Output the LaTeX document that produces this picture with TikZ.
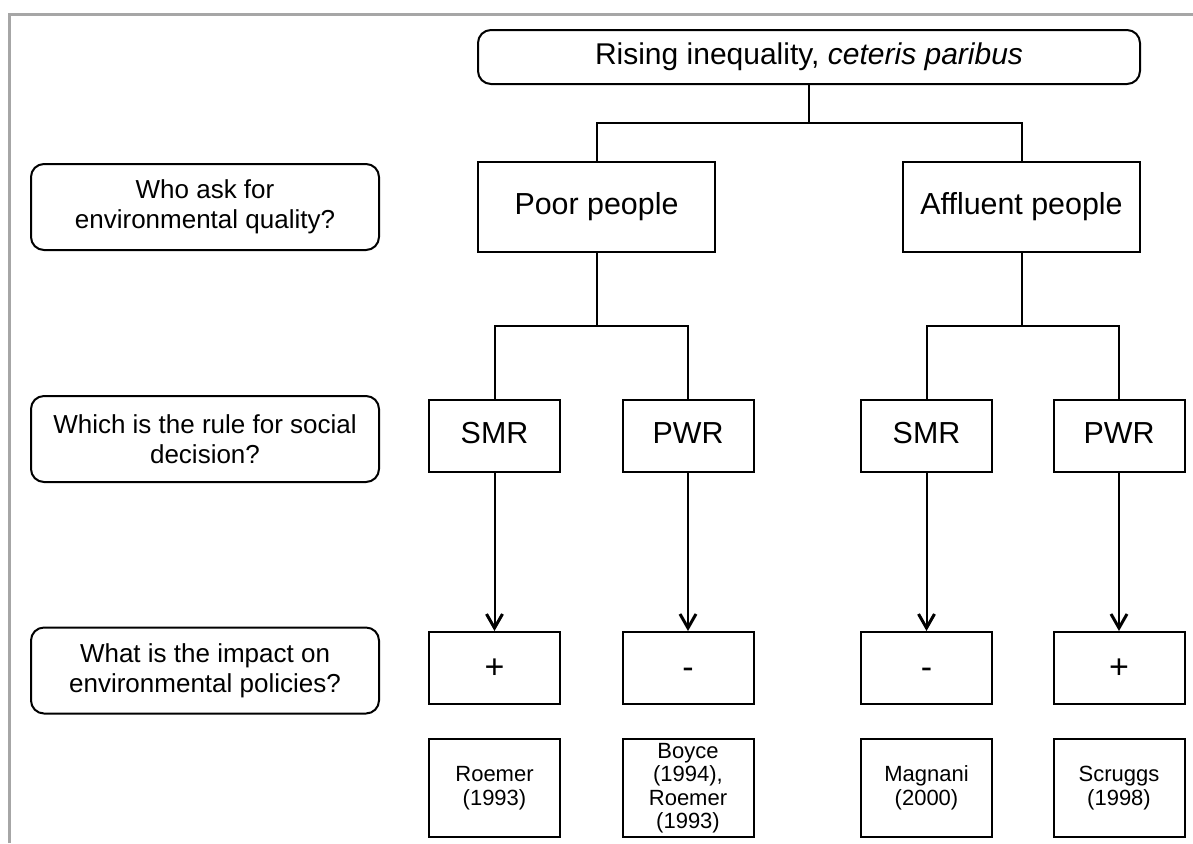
\documentclass[tikz,border=0pt]{standalone}
\usepackage{fontspec}
\setmainfont{Liberation Sans}
\usepackage{tikz}
\usetikzlibrary{arrows.meta}
\definecolor{cFrame}{HTML}{A6A6A6}
\definecolor{cLine}{HTML}{000000}

\begin{document}
\begin{tikzpicture}[
  x=0.5pt, y=-0.5pt,
  every node/.style={align=center, draw=cLine, line width=1pt, inner sep=1pt},
  question/.style={
    rounded corners=6.5pt,
    minimum width=174pt, minimum height=43pt,
    font=\fontsize{13}{15}\selectfont,
  },
  headbox/.style={
    rounded corners=6.5pt,
    minimum width=331pt, minimum height=27pt,
    font=\fontsize{15}{17}\selectfont,
  },
  groupbox/.style={
    minimum width=118.5pt, minimum height=45pt,
    font=\fontsize{15.2}{17}\selectfont,
  },
  rulebox/.style={
    minimum width=65.5pt, minimum height=36pt,
    text height=0.72em, text depth=0pt,
    font=\fontsize{15.2}{17}\selectfont,
  },
  signbox/.style={rulebox, text height=1em, font=\fontsize{17}{19}\selectfont},
  refbox/.style={
    minimum width=65.5pt, minimum height=49pt, inner sep=0pt,
    font=\fontsize{11}{11.75}\selectfont,
  },
  link/.style={draw=cLine, line width=1pt},
  arr/.style={link, -{Straight Barb[length=7pt, width=8pt, line width=1.5pt]}},
]

\useasboundingbox (0,0) rectangle (1193,843);
\draw[cFrame, line width=1.5pt] (9,843) -- (9,14) -- (1193,14);

% ─── QUESTIONS ───
\node[question] (qWho)    at (205,207)   {Who ask for\\environmental quality?};
\node[question] (qRule)   at (205,439)   {Which is the rule for social\\decision?};
\node[question] (qImpact) at (205,670.5) {What is the impact on\\environmental policies?};

% ─── TREE ───
\node[headbox] (top) at (809,57) {Rising inequality, \textit{ceteris paribus}};
\node[groupbox] (poor) at (596.5,207)  {Poor people};
\node[groupbox] (rich) at (1021.5,207) {Affluent people};

\node[rulebox] (poorSMR) at (494.5,436) {SMR};
\node[rulebox] (poorPWR) at (688,436)   {PWR};
\node[rulebox] (richSMR) at (926.5,436) {SMR};
\node[rulebox] (richPWR) at (1119,436)  {PWR};

\node[signbox] (poorSMRimp) at (494.5,668) {+};
\node[signbox] (poorPWRimp) at (688,668)   {-};
\node[signbox] (richSMRimp) at (926.5,668) {-};
\node[signbox] (richPWRimp) at (1119,668)  {+};

% ─── REFERENCES ───
\node[refbox] (poorSMRref) at (494.5,788) {Roemer\\(1993)};
\node[refbox] (poorPWRref) at (688,788)   {Boyce\\(1994),\\Roemer\\(1993)};
\node[refbox] (richSMRref) at (926.5,788) {Magnani\\(2000)};
\node[refbox] (richPWRref) at (1119,788)  {Scruggs\\(1998)};

% ─── CONNECTORS ───
\coordinate (jTop)  at (809,123);
\coordinate (jPoor) at (596.5,326);
\coordinate (jRich) at (1021.5,326);

\draw[link] (top) -- (jTop) -| (poor);
\draw[link] (jTop) -| (rich);
\draw[link] (poor) -- (jPoor) -| (poorSMR);
\draw[link] (jPoor) -| (poorPWR);
\draw[link] (rich) -- (jRich) -| (richSMR);
\draw[link] (jRich) -| (richPWR);

\draw[arr] (poorSMR) -- (poorSMRimp);
\draw[arr] (poorPWR) -- (poorPWRimp);
\draw[arr] (richSMR) -- (richSMRimp);
\draw[arr] (richPWR) -- (richPWRimp);

\end{tikzpicture}
\end{document}
